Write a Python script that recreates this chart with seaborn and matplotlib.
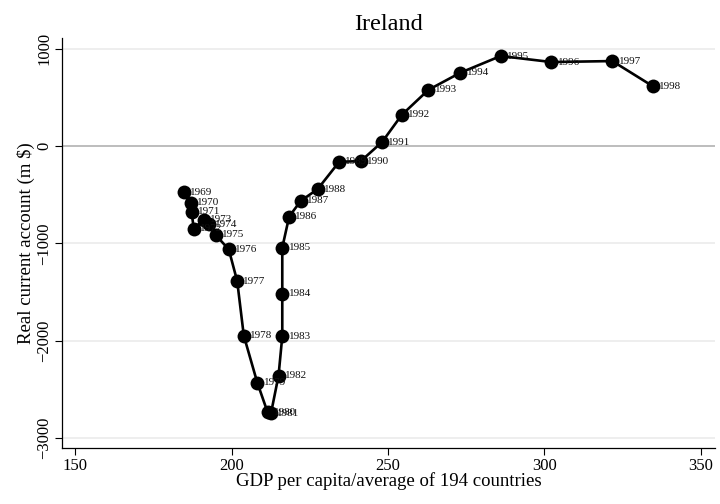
import matplotlib
matplotlib.use("Agg")
import matplotlib.pyplot as plt
import seaborn as sns
import pandas as pd

years = list(range(1969, 1999))
gdp_ratio = [184.7, 186.9, 187.2, 187.9, 191.1, 192.7, 194.9, 199.1, 201.8, 203.9,
             208.2, 211.5, 212.6, 215.0, 216.2, 216.2, 216.2, 218.4, 222.1, 227.5,
             234.4, 241.3, 248.1, 254.4, 262.9, 273.1, 286.0, 302.2, 321.7, 334.6]
current_account = [-477, -583, -673, -848, -760, -804, -914, -1062, -1389, -1948,
                   -2430, -2735, -2745, -2361, -1956, -1519, -1044, -725, -564, -443,
                   -162, -155, 41, 320, 577, 753, 925, 863, 873, 615]

df = pd.DataFrame({"year": years, "x": gdp_ratio, "y": current_account})

sns.set_theme(style="white")
plt.rcParams["font.family"] = ["Liberation Serif", "DejaVu Serif"]
plt.rcParams["text.color"] = "black"
plt.rcParams["axes.labelcolor"] = "black"
plt.rcParams["xtick.color"] = "black"
plt.rcParams["ytick.color"] = "black"

fig = plt.figure(figsize=(7.2, 5.04), dpi=100)
ax = fig.add_axes([62/720, 1-448/504, (715-62)/720, (448-38)/504])

# gridlines
for yv in [1000, -1000, -2000, -3000]:
    ax.axhline(yv, color="#ebebeb", lw=1.2, zorder=0)
ax.axhline(0, color="#bdbdbd", lw=1.4, zorder=0)

sns.lineplot(data=df, x="x", y="y", sort=False, estimator=None, color="black",
             lw=1.9, ax=ax, zorder=2)
sns.scatterplot(data=df, x="x", y="y", color="black", s=100, edgecolor="black",
                linewidth=0, ax=ax, zorder=3)

for yr, xv, yv in zip(years, gdp_ratio, current_account):
    ax.annotate(str(yr), (xv, yv), xytext=(4.5, 0), textcoords="offset points",
                fontsize=8, va="center", ha="left", color="#111111", zorder=4)

ax.set_xlim(145.8, 354.5)
ax.set_ylim(-3103, 1110)
ax.set_xticks([150, 200, 250, 300, 350])
ax.set_yticks([-3000, -2000, -1000, 0, 1000])
ax.tick_params(axis="both", which="major", direction="out", length=5, width=0.8,
               color="black", labelsize=12, bottom=True, left=True, pad=2)
for lab in ax.get_yticklabels():
    lab.set_rotation(90)
    lab.set_va("center")
for s in ["top", "right"]:
    ax.spines[s].set_visible(False)
for s in ["left", "bottom"]:
    ax.spines[s].set_color("black")
    ax.spines[s].set_linewidth(0.9)

ax.set_xlabel("GDP per capita/average of 194 countries", fontsize=13.5, labelpad=-1)
ax.set_ylabel("Real current account (m $)", fontsize=13.5, labelpad=1)
ax.set_title("Ireland", fontsize=17.5, pad=6)

fig.savefig("out.png", dpi=100)
